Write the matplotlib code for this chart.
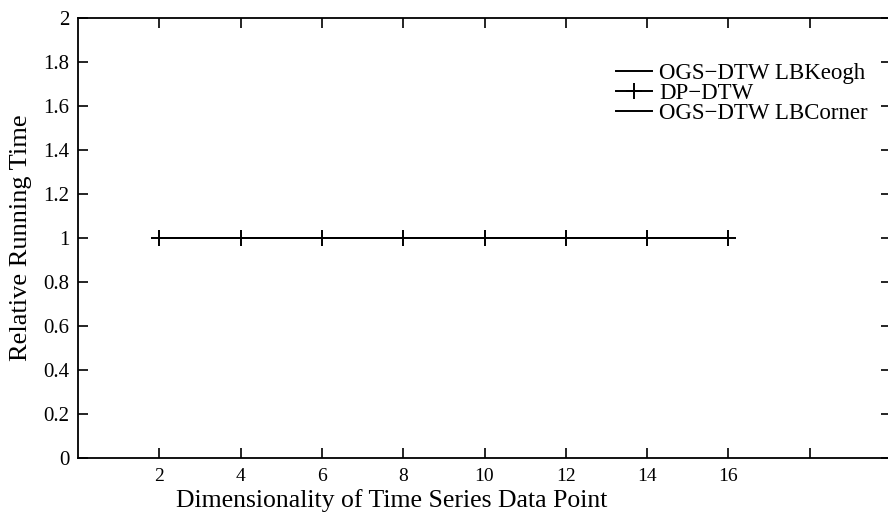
import matplotlib
matplotlib.use("Agg")
import matplotlib.pyplot as plt

# dimensionality (tick labels) and relative running time
positions = [1, 2, 3, 4, 5, 6, 7, 8]
dims = ["2", "4", "6", "8", "10", "12", "14", "16"]
dp_dtw = [1, 1, 1, 1, 1, 1, 1, 1]
ogs_keogh = [1, 1, 1, 1, 1, 1, 1, 1]
ogs_corner = [1, 1, 1, 1, 1, 1, 1, 1]

plt.rcParams["font.family"] = ["Liberation Serif", "DejaVu Serif"]

fig = plt.figure(figsize=(8.88, 5.14), dpi=100)
ax = fig.add_axes([78 / 888, 1 - 458 / 514, 813 / 888, 440 / 514])

ax.plot(positions, ogs_keogh, "-", color="k", linewidth=1.4, label="OGS\u2212DTW LBKeogh")
ax.plot(positions, dp_dtw, "-+", color="k", linewidth=1.4, markersize=11,
        markeredgewidth=1.4, label="DP\u2212DTW")
ax.plot(positions, ogs_corner, "-", color="k", linewidth=1.4, label="OGS\u2212DTW LBCorner")

ax.set_xlim(0, 10)
ax.set_ylim(0, 2)
ax.set_xticks([1, 2, 3, 4, 5, 6, 7, 8, 9])
ax.set_xticklabels(dims + [""])
ax.set_yticks([0, 0.2, 0.4, 0.6, 0.8, 1, 1.2, 1.4, 1.6, 1.8, 2])
ax.set_yticklabels(["0", "0.2", "0.4", "0.6", "0.8", "1", "1.2", "1.4", "1.6", "1.8", "2"])
ax.tick_params(direction="in", length=7, width=1.2, top=True, right=True, pad=6)
ax.tick_params(axis="x", labelsize=14, pad=7)
ax.tick_params(axis="y", labelsize=15, pad=6)
for sp in ax.spines.values():
    sp.set_linewidth(1.3)

ax.set_xlabel("Dimensionality of Time Series Data Point", fontsize=18.5)
ax.xaxis.set_label_coords((392 - 78) / 813, -0.07)
ax.xaxis.label.set_verticalalignment("top")
ax.set_ylabel("Relative Running Time", fontsize=19, labelpad=8)

ax.legend(loc="upper left", bbox_to_anchor=(0.65, 0.918), frameon=False,
          fontsize=16.5, handlelength=1.6, handletextpad=0.3, labelspacing=-0.06,
          borderaxespad=0)

fig.savefig("out.png", dpi=100)
